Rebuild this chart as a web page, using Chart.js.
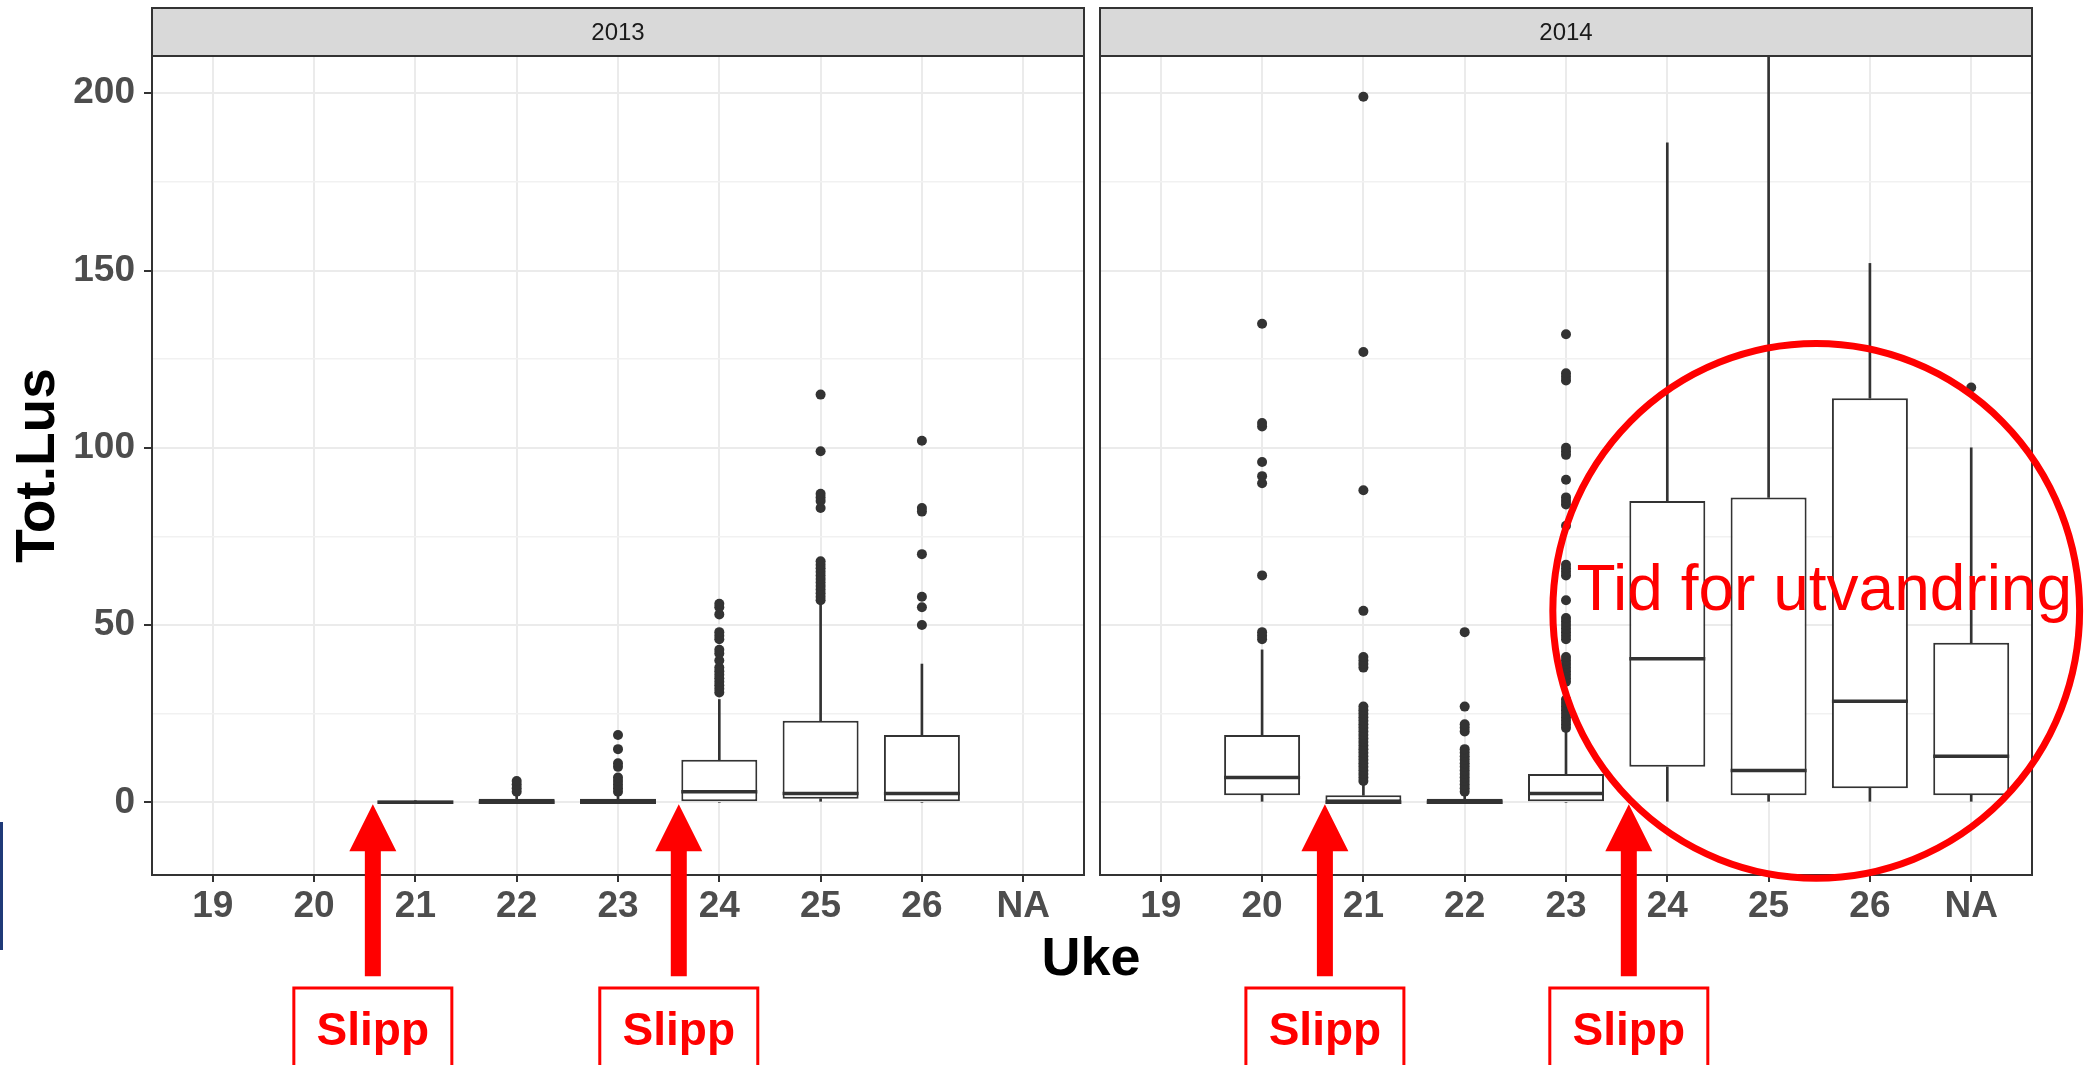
<!DOCTYPE html>
<html>
<head>
<meta charset="utf-8">
<script src="https://cdn.jsdelivr.net/npm/chart.js@4.4.1/dist/chart.umd.min.js"></script>
<style>
  html, body { margin: 0; padding: 0; background: #ffffff; }
  #wrap { position: relative; width: 2089px; height: 1065px; overflow: hidden; }
  canvas { position: absolute; left: 0; top: 0; }
</style>
</head>
<body>
<div id="wrap">
  <canvas id="c2013" width="2089" height="1065"></canvas>
  <canvas id="c2014" width="2089" height="1065"></canvas>
</div>
<script>
// Kategorier (uke) og akse
const weeks = ['19', '20', '21', '22', '23', '24', '25', '26', 'NA'];
const yTicks = [0, 50, 100, 150, 200];
const yMinorTicks = [25, 75, 125, 175];

// 2013: whisker nede, Q1, median, Q3, whisker oppe, uteliggere
const lo2013  = [null, null, 0,   0, 0, 0,  0,   0,   null];
const q1_2013 = [null, null, 0,   0, 0, 0,  1,   0,   null];
const med2013 = [null, null, 0,   0, 0, 3,  2.5, 2.5, null];
const q3_2013 = [null, null, 0.5, 1, 1, 12, 23,  19,  null];
const hi2013  = [null, null, 0.5, 2, 2, 29, 56,  39,  null];
const out2013 = [
  [], [], [],
  [3, 4, 5, 6],
  [3, 4, 5, 6, 7, 10, 11, 15, 19],
  [31, 32, 33, 34, 35, 36, 37, 38, 40, 42, 43, 46, 47, 48, 53, 55, 56],
  [57, 58, 59, 60, 61, 62, 63, 64, 65, 66, 67, 68, 83, 85, 86, 87, 99, 115],
  [50, 55, 58, 70, 82, 83, 102],
  []
];

// 2014
const lo2014  = [null, 0,  0, 0, 0,   0,    0,   0,    0];
const q1_2014 = [null, 2,  0, 0, 0,   10,   2,   4,    2];
const med2014 = [null, 7,  0, 0, 2.5, 40.5, 9,   28.5, 13];
const q3_2014 = [null, 19, 2, 1, 8,   85,   86,  114,  45];
const hi2014  = [null, 43, 5, 2, 20,  186,  215, 152,  100];
const out2014 = [
  [],
  [46, 47, 48, 64, 90, 92, 96, 106, 107, 135],
  [6, 7, 8, 9, 10, 11, 12, 13, 14, 15, 16, 17, 18, 19, 20, 21, 22, 23, 24, 25, 26, 27,
   38, 39, 40, 41, 54, 88, 127, 199],
  [3, 4, 5, 6, 7, 8, 9, 10, 11, 12, 13, 14, 15, 20, 21, 22, 27, 48],
  [21, 22, 23, 24, 25, 26, 27, 28, 29, 34, 35, 36, 37, 38, 39, 40, 41,
   46, 47, 48, 49, 50, 51, 52, 57, 64, 65, 66, 67, 78, 84, 85, 86, 91,
   98, 99, 100, 119, 120, 121, 132],
  [], [], [],
  [117]
];

const FONT = '"Liberation Sans", Arial, Helvetica, sans-serif';
const DARK = '#333333';
Chart.defaults.font.family = FONT;

function boxDatasets(lo, q1, med, q3, hi, out) {
  const idx = weeks.map((w, i) => i).filter(i => q1[i] !== null);
  const whisker = {
    type: 'bar', grouped: false, barThickness: 2,
    backgroundColor: DARK, borderWidth: 0, order: 4
  };
  const outliers = [];
  out.forEach((vals, i) => vals.forEach(v => outliers.push({x: i, y: v})));
  return [
    Object.assign({data: idx.map(i => ({x: i, y: [lo[i], q1[i]]}))}, whisker),
    Object.assign({data: idx.map(i => ({x: i, y: [q3[i], hi[i]]}))}, whisker),
    {
      type: 'bar', grouped: false,
      data: idx.map(i => ({x: i, y: [q1[i], q3[i]]})),
      categoryPercentage: 1, barPercentage: 0.75,
      backgroundColor: '#ffffff', borderColor: DARK, borderWidth: 2,
      borderSkipped: false, order: 3
    },
    {
      type: 'scatter',
      data: idx.map(i => ({x: i, y: med[i]})),
      pointStyle: 'line', pointRadius: 38, pointBorderWidth: 3.5,
      pointBorderColor: DARK, order: 2
    },
    {
      type: 'scatter', data: outliers,
      pointStyle: 'circle', pointRadius: 5,
      pointBackgroundColor: DARK, pointBorderWidth: 0, order: 1
    }
  ];
}

// Panelramme, stripe og røde merknader
const panelDecor = {
  id: 'panelDecor',
  afterDraw(chart, args, opts) {
    const {ctx, chartArea: a} = chart;
    const x = chart.scales.x, y = chart.scales.y;
    ctx.save();
    ctx.strokeStyle = DARK;
    ctx.lineWidth = 2;
    ctx.strokeRect(a.left, a.top, a.right - a.left, a.bottom - a.top);

    ctx.fillStyle = '#D9D9D9';
    ctx.fillRect(a.left, 8, a.right - a.left, a.top - 8);
    ctx.strokeRect(a.left, 8, a.right - a.left, a.top - 8);
    ctx.fillStyle = '#1A1A1A';
    ctx.font = '24px ' + FONT;
    ctx.textAlign = 'center';
    ctx.textBaseline = 'middle';
    ctx.fillText(opts.title, (a.left + a.right) / 2, (8 + a.top) / 2 + 1);

    // Pil + "Slipp"
    opts.slipp.forEach(pos => {
      const cx = x.getPixelForValue(pos);
      const tip = y.getPixelForValue(0) + 2;
      ctx.fillStyle = '#FF0000';
      ctx.beginPath();
      ctx.moveTo(cx, tip);
      ctx.lineTo(cx + 23.5, tip + 47);
      ctx.lineTo(cx + 8, tip + 47);
      ctx.lineTo(cx + 8, tip + 172);
      ctx.lineTo(cx - 8, tip + 172);
      ctx.lineTo(cx - 8, tip + 47);
      ctx.lineTo(cx - 23.5, tip + 47);
      ctx.closePath();
      ctx.fill();

      ctx.strokeStyle = '#FF0000';
      ctx.lineWidth = 3;
      ctx.strokeRect(cx - 79, 988, 158, 95);
      ctx.font = 'bold 46px ' + FONT;
      ctx.textBaseline = 'alphabetic';
      ctx.fillText('Slipp', cx, 1045);
    });

    if (opts.circle) {
      const c = opts.circle;
      const cx = x.getPixelForValue(c.x);
      const cy = y.getPixelForValue(c.y);
      const rx = x.getPixelForValue(c.x + c.rx) - cx;
      const ry = cy - y.getPixelForValue(c.y + c.ry);
      ctx.strokeStyle = '#FF0000';
      ctx.lineWidth = 7;
      ctx.beginPath();
      ctx.ellipse(cx, cy, rx, ry, 0, 0, Math.PI * 2);
      ctx.stroke();
      ctx.fillStyle = '#FF0000';
      ctx.font = '64px ' + FONT;
      ctx.textAlign = 'center';
      ctx.textBaseline = 'alphabetic';
      ctx.fillText(c.text, cx + 8, cy - 1);
    }

    if (opts.xTitle) {
      ctx.fillStyle = '#000000';
      ctx.font = 'bold 54px ' + FONT;
      ctx.textAlign = 'center';
      ctx.textBaseline = 'alphabetic';
      ctx.fillText(opts.xTitle, 1091, 975);
      // blå kant fra lysbildet
      ctx.fillStyle = '#1F3A78';
      ctx.fillRect(0, 822, 3, 128);
    }
    ctx.restore();
  }
};

function makeChart(id, datasets, cfg) {
  const isMajor = v => yTicks.includes(v);
  return new Chart(document.getElementById(id), {
    type: 'bar',
    data: {datasets: datasets},
    plugins: [panelDecor],
    options: {
      responsive: false,
      animation: false,
      events: [],
      layout: {padding: cfg.padding},
      plugins: {
        legend: {display: false},
        tooltip: {enabled: false},
        panelDecor: cfg.decor
      },
      scales: {
        x: {
          type: 'linear', min: -0.6, max: 8.6, offset: false, bounds: 'data',
          afterBuildTicks: s => { s.ticks = weeks.map((w, i) => ({value: i})); },
          afterFit: s => { s.height = 190; },
          border: {display: false},
          grid: {
            offset: false, color: '#EBEBEB', lineWidth: 2,
            tickLength: 7, tickColor: DARK, tickWidth: 2
          },
          ticks: {
            autoSkip: false, maxRotation: 0, minRotation: 0, padding: 3,
            color: '#4D4D4D', font: {size: 37, weight: 'bold'},
            callback: v => weeks[v]
          }
        },
        y: {
          type: 'linear', min: -20.5, max: 210.5, bounds: 'data',
          afterBuildTicks: s => {
            s.ticks = yTicks.concat(yMinorTicks).sort((a, b) => a - b).map(v => ({value: v}));
          },
          afterFit: s => { s.width = cfg.yWidth; },
          border: {display: false},
          title: cfg.yTitle ? {
            display: true, text: 'Tot.Lus', color: '#000000',
            font: {size: 55, weight: 'bold'}, padding: {top: 6, bottom: 0}
          } : {display: false},
          grid: {
            drawTicks: cfg.yTitle,
            color: c => isMajor(c.tick.value) ? '#EBEBEB' : '#F1F1F1',
            lineWidth: c => isMajor(c.tick.value) ? 2 : 1.5,
            tickLength: 8,
            tickColor: c => isMajor(c.tick.value) ? DARK : 'rgba(0,0,0,0)',
            tickWidth: 2
          },
          ticks: {
            display: cfg.yTitle, autoSkip: false, padding: 9,
            color: '#4D4D4D', font: {size: 37, weight: 'bold'},
            callback: v => isMajor(v) ? String(v) : ''
          }
        }
      }
    }
  });
}

makeChart('c2013', boxDatasets(lo2013, q1_2013, med2013, q3_2013, hi2013, out2013), {
  padding: {left: 0, top: 56, right: 1005, bottom: 0},
  yWidth: 152,
  yTitle: true,
  decor: {title: '2013', slipp: [1.58, 4.6], xTitle: 'Uke'}
});

makeChart('c2014', boxDatasets(lo2014, q1_2014, med2014, q3_2014, hi2014, out2014), {
  padding: {left: 1100, top: 56, right: 57, bottom: 0},
  yWidth: 0,
  yTitle: false,
  decor: {
    title: '2014', slipp: [1.62, 4.62],
    circle: {x: 6.47, y: 54, rx: 2.6, ry: 75.4, text: 'Tid for utvandring'}
  }
});
</script>
</body>
</html>
